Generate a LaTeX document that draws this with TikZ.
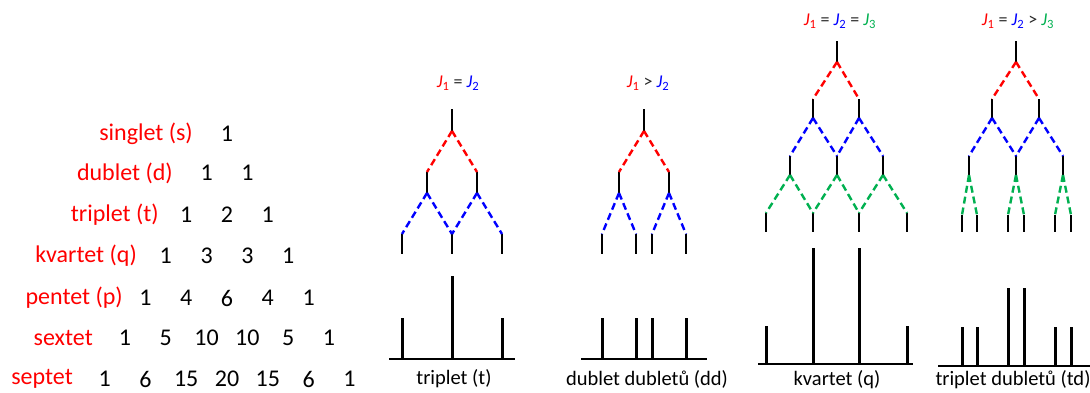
\documentclass[tikz,border=0pt]{standalone}
\usepackage{fontspec}
\setmainfont{Carlito}
\definecolor{jred}{RGB}{255,0,0}
\definecolor{jblue}{RGB}{0,0,255}
\definecolor{jgreen}{RGB}{0,176,80}
\begin{document}
\begin{tikzpicture}[x=1pt,y=-1pt,
  lab/.style={text=jred,font=\fontsize{24}{28}\selectfont,inner sep=0pt,anchor=east},
  num/.style={font=\fontsize{24}{28}\selectfont,inner sep=0pt},
  captext/.style={font=\fontsize{20.5}{24}\selectfont,inner sep=0pt},
  jlab/.style={font=\fontsize{18}{22}\selectfont,inner sep=0pt,text=black!85},
  stem/.style={line width=2.2pt,black},
  split/.style={line width=2.4pt,dash pattern=on 7pt off 4pt},
  peak/.style={line width=3pt,black},
  base/.style={line width=2.6pt,black}]
\useasboundingbox (0,0) rectangle (1090,392);

% ---- Pascal triangle ----
\foreach \r/\y/\vals in {0/134/{1},1/173/{1,1},2/215/{1,2,1},3/256/{1,3,3,1},4/298/{1,4,6,4,1},5/338/{1,5,10,10,5,1},6/379/{1,6,15,20,15,6,1}}{
  \foreach \v [count=\k from 0] in \vals {
    \node[num] (n\r-\k) at ({227+(\k-\r/2)*40.8},\y) {\v};
  }
}
\node[lab] (l0) at (193,134) {singlet (s)};
\node[lab] (l1) at (173,173) {dublet (d)};
\node[lab] (l2) at (159,215) {triplet (t)};
\node[lab] (l3) at (137,256) {kvartet (q)};
\node[lab] (l4) at (123,298) {pentet (p)};
\node[lab] (l5) at (93,338) {sextet};
\node[lab] (l6) at (73,379) {septet};

% ---- triplet ----
\node[jlab] (ja) at (458,83) {\textcolor{jred}{\textit{J}\textsubscript{1}} = \textcolor{jblue}{\textit{J}\textsubscript{2}}};
\coordinate (a0) at (452,109); \coordinate (a1) at (452,131);
\coordinate (a2a) at (427,172); \coordinate (a2b) at (477,172);
\coordinate (a3a) at (427,193); \coordinate (a3b) at (477,193);
\coordinate (a4a) at (402,234); \coordinate (a4b) at (452,234); \coordinate (a4c) at (502,234);
\coordinate (a5a) at (402,254); \coordinate (a5b) at (452,254); \coordinate (a5c) at (502,254);
\draw[stem] (a0) -- (a1) (a2a) -- (a3a) (a2b) -- (a3b) (a4a) -- (a5a) (a4b) -- (a5b) (a4c) -- (a5c);
\draw[split,jred] (a1) -- (a2a) (a1) -- (a2b);
\draw[split,jblue] (a3a) -- (a4a) (a3a) -- (a4b) (a3b) -- (a4b) (a3b) -- (a4c);
\coordinate (aL) at (389,359); \coordinate (aR) at (515,359);
\draw[base] (aL) -- (aR);
\coordinate (ap1) at (402,318); \coordinate (ap2) at (452,276); \coordinate (ap3) at (502,318);
\draw[peak] (402,359) -- (ap1) (452,359) -- (ap2) (502,359) -- (ap3);
\node[captext] (ca) at (454,379) {triplet (t)};

% ---- dublet dubletu ----
\node[jlab] (jb) at (648,83) {\textcolor{jred}{\textit{J}\textsubscript{1}} > \textcolor{jblue}{\textit{J}\textsubscript{2}}};
\coordinate (b0) at (644,109); \coordinate (b1) at (644,131);
\coordinate (b2a) at (619,172); \coordinate (b2b) at (669,172);
\coordinate (b3a) at (619,193); \coordinate (b3b) at (669,193);
\coordinate (b4a) at (602,234); \coordinate (b4b) at (636,234); \coordinate (b4c) at (652,234); \coordinate (b4d) at (686,234);
\coordinate (b5a) at (602,254); \coordinate (b5b) at (636,254); \coordinate (b5c) at (652,254); \coordinate (b5d) at (686,254);
\draw[stem] (b0) -- (b1) (b2a) -- (b3a) (b2b) -- (b3b) (b4a) -- (b5a) (b4b) -- (b5b) (b4c) -- (b5c) (b4d) -- (b5d);
\draw[split,jred] (b1) -- (b2a) (b1) -- (b2b);
\draw[split,jblue] (b3a) -- (b4a) (b3a) -- (b4b) (b3b) -- (b4c) (b3b) -- (b4d);
\coordinate (bL) at (581,359); \coordinate (bR) at (707,359);
\draw[base] (bL) -- (bR);
\foreach \x in {602,636,652,686} \draw[peak] (\x,359) -- (\x,318);
\node[captext] (cb) at (647,379) {dublet dubletů (dd)};

% ---- kvartet ----
\node[jlab] (jc) at (840,21) {\textcolor{jred}{\textit{J}\textsubscript{1}} = \textcolor{jblue}{\textit{J}\textsubscript{2}} = \textcolor{jgreen}{\textit{J}\textsubscript{3}}};
\coordinate (c0) at (837,41); \coordinate (c1) at (837,62);
\coordinate (c2a) at (813,99); \coordinate (c2b) at (859,99);
\coordinate (c3a) at (813,118); \coordinate (c3b) at (859,118);
\coordinate (c4a) at (790,156); \coordinate (c4b) at (837,156); \coordinate (c4c) at (883,156);
\coordinate (c5a) at (790,175); \coordinate (c5b) at (837,175); \coordinate (c5c) at (883,175);
\coordinate (c6a) at (766,213); \coordinate (c6b) at (813,213); \coordinate (c6c) at (859,213); \coordinate (c6d) at (907,213);
\coordinate (c7a) at (766,232); \coordinate (c7b) at (813,232); \coordinate (c7c) at (859,232); \coordinate (c7d) at (907,232);
\draw[stem] (c0) -- (c1) (c2a) -- (c3a) (c2b) -- (c3b) (c4a) -- (c5a) (c4b) -- (c5b) (c4c) -- (c5c)
  (c6a) -- (c7a) (c6b) -- (c7b) (c6c) -- (c7c) (c6d) -- (c7d);
\draw[split,jred] (c1) -- (c2a) (c1) -- (c2b);
\draw[split,jblue] (c3a) -- (c4a) (c3a) -- (c4b) (c3b) -- (c4b) (c3b) -- (c4c);
\draw[split,jgreen] (c5a) -- (c6a) (c5a) -- (c6b) (c5b) -- (c6b) (c5b) -- (c6c) (c5c) -- (c6c) (c5c) -- (c6d);
\coordinate (cL) at (758,364); \coordinate (cR) at (913,364);
\draw[base] (cL) -- (cR);
\draw[peak] (766,364) -- (766,326) (813,364) -- (813,248) (859,364) -- (859,248) (907,364) -- (907,326);
\node[captext] (cc) at (837,379.5) {kvartet (q)};

% ---- triplet dubletu ----
\node[jlab] (jd) at (1018,21) {\textcolor{jred}{\textit{J}\textsubscript{1}} = \textcolor{jblue}{\textit{J}\textsubscript{2}} > \textcolor{jgreen}{\textit{J}\textsubscript{3}}};
\coordinate (d0) at (1016,41); \coordinate (d1) at (1016,62);
\coordinate (d2a) at (992,99); \coordinate (d2b) at (1039,99);
\coordinate (d3a) at (992,118); \coordinate (d3b) at (1039,118);
\coordinate (d4a) at (969,156); \coordinate (d4b) at (1016,156); \coordinate (d4c) at (1063,156);
\coordinate (d5a) at (969,175); \coordinate (d5b) at (1016,175); \coordinate (d5c) at (1063,175);
\coordinate (d6a) at (962,215); \coordinate (d6b) at (977,215); \coordinate (d6c) at (1008,215);
\coordinate (d6d) at (1024,215); \coordinate (d6e) at (1055,215); \coordinate (d6f) at (1071,215);
\coordinate (d7a) at (962,232); \coordinate (d7b) at (977,232); \coordinate (d7c) at (1008,232);
\coordinate (d7d) at (1024,232); \coordinate (d7e) at (1055,232); \coordinate (d7f) at (1071,232);
\draw[stem] (d0) -- (d1) (d2a) -- (d3a) (d2b) -- (d3b) (d4a) -- (d5a) (d4b) -- (d5b) (d4c) -- (d5c)
  (d6a) -- (d7a) (d6b) -- (d7b) (d6c) -- (d7c) (d6d) -- (d7d) (d6e) -- (d7e) (d6f) -- (d7f);
\draw[split,jred] (d1) -- (d2a) (d1) -- (d2b);
\draw[split,jblue] (d3a) -- (d4a) (d3a) -- (d4b) (d3b) -- (d4b) (d3b) -- (d4c);
\draw[split,jgreen] (d5a) -- (d6a) (d5a) -- (d6b) (d5b) -- (d6c) (d5b) -- (d6d) (d5c) -- (d6e) (d5c) -- (d6f);
\coordinate (dL) at (938,366); \coordinate (dR) at (1090,366);
\draw[base] (dL) -- (dR);
\draw[peak] (962,366) -- (962,327) (977,366) -- (977,327) (1008,366) -- (1008,288) (1024,366) -- (1024,288) (1055,366) -- (1055,327) (1071,366) -- (1071,327);
\node[captext] (cd) at (1013,379.5) {triplet dubletů (td)};
\end{tikzpicture}
\end{document}
